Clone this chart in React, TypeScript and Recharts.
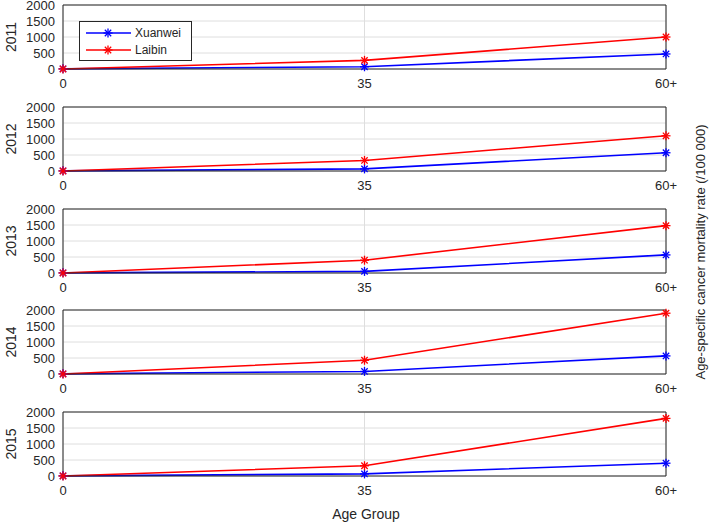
import { LineChart, Line, XAxis, YAxis, CartesianGrid } from "recharts";

const ageGroups = ["0", "35", "60+"];
const years = ["2011", "2012", "2013", "2014", "2015"];
const xuanwei = [
  [5, 70, 470],
  [5, 65, 570],
  [5, 50, 565],
  [5, 80, 565],
  [5, 65, 400],
];
const laibin = [
  [0, 270, 1000],
  [0, 330, 1100],
  [0, 400, 1480],
  [0, 430, 1900],
  [0, 320, 1800],
];
const yTicks = [0, 500, 1000, 1500, 2000];

const BLUE = "#0000ff";
const RED = "#ff0000";
const INK = "#262626";
const FONT = "'Liberation Sans', Arial, sans-serif";

const Star = (props: any) => {
  const { cx, cy, stroke } = props;
  if (cx == null || cy == null) return null;
  const r = 4.5;
  const d = r * 0.707;
  return (
    <g stroke={stroke} strokeWidth={1.3}>
      <line x1={cx - r} y1={cy} x2={cx + r} y2={cy} />
      <line x1={cx} y1={cy - r} x2={cx} y2={cy + r} />
      <line x1={cx - d} y1={cy - d} x2={cx + d} y2={cy + d} />
      <line x1={cx - d} y1={cy + d} x2={cx + d} y2={cy - d} />
    </g>
  );
};

function Panel({ idx }: { idx: number }) {
  const rows = ageGroups.map((g, i) => ({
    age: g,
    Xuanwei: xuanwei[idx][i],
    Laibin: laibin[idx][i],
  }));
  const tickStyle = { fill: INK, fontSize: 13, fontFamily: FONT };
  // chart starts 8px above the plot box so the top tick label is not clipped
  return (
    <div style={{ position: "absolute", left: 0, top: idx * 101.75 - 8 }}>
      <LineChart width={709} height={108} data={rows} margin={{ top: 13, right: 43, bottom: 0, left: 0 }}>
        <CartesianGrid stroke="#dedede" strokeWidth={1} />
        <XAxis
          dataKey="age"
          height={31}
          interval={0}
          tick={tickStyle}
          tickSize={0}
          tickMargin={10}
          axisLine={{ stroke: INK }}
        />
        <XAxis xAxisId="bt" dataKey="age" mirror tick={false} tickSize={4} axisLine={false} tickLine={{ stroke: INK }} />
        <XAxis xAxisId="top" dataKey="age" orientation="top" mirror tick={false} tickSize={4} axisLine={{ stroke: INK }} tickLine={{ stroke: INK }} />
        <YAxis
          width={63}
          domain={[0, 2000]}
          ticks={yTicks}
          interval={0}
          tick={tickStyle}
          tickSize={0}
          tickMargin={8}
          axisLine={{ stroke: INK }}
          label={{
            content: (p: any) => {
              const vb = p.viewBox || {};
              const cy = (vb.y || 0) + (vb.height || 0) / 2;
              return (
                <text
                  x={11}
                  y={cy}
                  transform={`rotate(-90, 11, ${cy})`}
                  textAnchor="middle"
                  dominantBaseline="central"
                  fill={INK}
                  fontSize={14}
                  fontFamily={FONT}
                >
                  {years[idx]}
                </text>
              );
            },
          }}
        />
        <YAxis yAxisId="lt" domain={[0, 2000]} ticks={yTicks} mirror tick={false} tickSize={4} axisLine={false} tickLine={{ stroke: INK }} />
        <YAxis yAxisId="rt" orientation="right" domain={[0, 2000]} ticks={yTicks} mirror tick={false} tickSize={4} axisLine={{ stroke: INK }} tickLine={{ stroke: INK }} />
        <Line dataKey="Xuanwei" stroke={BLUE} strokeWidth={1.6} dot={<Star />} isAnimationActive={false} />
        <Line dataKey="Laibin" stroke={RED} strokeWidth={1.6} dot={<Star />} isAnimationActive={false} />
      </LineChart>
    </div>
  );
}

function LegendBox() {
  const items = [
    { name: "Xuanwei", color: BLUE },
    { name: "Laibin", color: RED },
  ];
  return (
    <div
      style={{
        position: "absolute",
        left: 79,
        top: 21,
        width: 111,
        height: 38,
        border: `1px solid ${INK}`,
        background: "#fff",
        fontFamily: FONT,
        fontSize: 12,
        color: INK,
      }}
    >
      {items.map((it, i) => (
        <div key={it.name} style={{ position: "absolute", left: 0, top: 4 + i * 17, height: 14, display: "flex", alignItems: "center" }}>
          <svg width={54} height={14}>
            <line x1={6} y1={7} x2={51} y2={7} stroke={it.color} strokeWidth={1.5} />
            <Star cx={28} cy={7} stroke={it.color} />
          </svg>
          <span style={{ marginLeft: 1 }}>{it.name}</span>
        </div>
      ))}
    </div>
  );
}

export default function App() {
  return (
    <div style={{ position: "absolute", left: 0, top: 0, width: 709, height: 525, background: "#fff", fontFamily: FONT, overflow: "hidden" }}>
      {years.map((y, i) => (
        <Panel key={y} idx={i} />
      ))}
      <LegendBox />
      <div
        style={{
          position: "absolute",
          left: 366,
          top: 514,
          transform: "translate(-50%, -50%)",
          fontSize: 14,
          color: INK,
          whiteSpace: "nowrap",
        }}
      >
        Age Group
      </div>
      <div
        style={{
          position: "absolute",
          left: 700,
          top: 252,
          width: 0,
          height: 0,
        }}
      >
        <div
          style={{
            position: "absolute",
            left: 0,
            top: 0,
            transform: "translate(-50%, -50%) rotate(-90deg)",
            fontSize: 13,
            color: INK,
            whiteSpace: "nowrap",
          }}
        >
          Age-specific cancer mortality rate (/100 000)
        </div>
      </div>
    </div>
  );
}
